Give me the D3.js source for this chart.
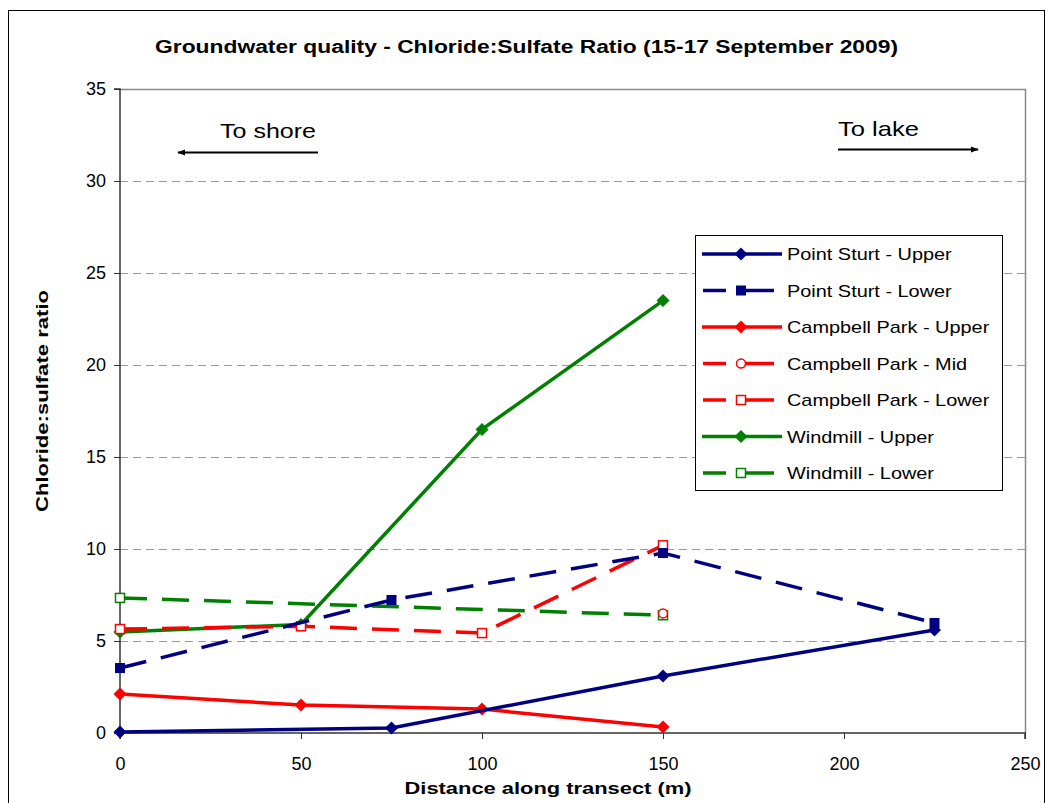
<!DOCTYPE html>
<html><head><meta charset="utf-8">
<script src="https://cdn.jsdelivr.net/npm/d3@7"></script>
<style>body{margin:0;background:#fff}svg{display:block;font-family:Arial,"Liberation Sans",sans-serif}</style>
</head><body>
<svg id="c" width="1050" height="803"></svg>
<script>
const title = "Groundwater quality - Chloride:Sulfate Ratio (15-17 September 2009)";
const xTitle = "Distance along transect (m)";
const yTitle = "Chloride:sulfate ratio";
const xTicks = [0, 50, 100, 150, 200, 250];
const yTicks = [0, 5, 10, 15, 20, 25, 30, 35];
const seriesNames = ["Point Sturt - Upper","Point Sturt - Lower","Campbell Park - Upper","Campbell Park - Mid","Campbell Park - Lower","Windmill - Upper","Windmill - Lower"];
const seriesColors = ["#000080","#000080","#FF0000","#FF0000","#FF0000","#008000","#008000"];
const seriesDashed = [false,true,false,true,true,false,true];
const seriesMarkers = ["diamond","square","diamond","circleOpen","squareOpen","diamond","squareOpen"];
const pointSturtUpperX = [0, 75, 150, 225];
const pointSturtUpperY = [0.05, 0.27, 3.1, 5.6];
const pointSturtLowerX = [0, 75, 150, 225];
const pointSturtLowerY = [3.53, 7.23, 9.78, 5.98];
const campbellUpperX = [0, 50, 100, 150];
const campbellUpperY = [2.12, 1.52, 1.3, 0.33];
const campbellMidX = [150];
const campbellMidY = [6.5];
const campbellLowerX = [0, 50, 100, 150];
const campbellLowerY = [5.65, 5.8, 5.43, 10.2];
const windmillUpperX = [0, 50, 100, 150];
const windmillUpperY = [5.49, 5.9, 16.5, 23.5];
const windmillLowerX = [0, 150];
const windmillLowerY = [7.34, 6.4];
const allX = [pointSturtUpperX, pointSturtLowerX, campbellUpperX, campbellMidX, campbellLowerX, windmillUpperX, windmillLowerX];
const allY = [pointSturtUpperY, pointSturtLowerY, campbellUpperY, campbellMidY, campbellLowerY, windmillUpperY, windmillLowerY];
const series = seriesNames.map((n,i)=>({name:n,color:seriesColors[i],dashed:seriesDashed[i],marker:seriesMarkers[i],
  pts: allX[i].map((x,j)=>({x:x,y:allY[i][j]}))}));

const svg = d3.select("#c");
const L=120,R=1025,T=89,B=733;
const x = d3.scaleLinear().domain([0,250]).range([L,R]);
const y = d3.scaleLinear().domain([0,35]).range([B,T]);

function stretch(sel, k){
  sel.each(function(){ const w=this.getComputedTextLength(); d3.select(this).attr("textLength",w*k).attr("lengthAdjust","spacingAndGlyphs"); });
}

// outer border
svg.append("rect").attr("x",8.5).attr("y",10.5).attr("width",1036).attr("height",820)
  .attr("fill","#fff").attr("stroke","#000").attr("stroke-width",1);

// grid
svg.append("g").selectAll("line").data(yTicks.filter(d=>d>0&&d<35)).join("line")
  .attr("x1",L).attr("x2",R).attr("y1",d=>Math.round(y(d))+0.5).attr("y2",d=>Math.round(y(d))+0.5)
  .attr("stroke","#999").attr("stroke-width",1).attr("stroke-dasharray","8,5");

// plot border (top/right gray)
svg.append("path").attr("d",`M${L},${T+0.5}H${R+0.5}V${B}`).attr("fill","none").attr("stroke","#888").attr("stroke-width",1.5);

// axes
const yAxis = d3.axisLeft(y).tickValues(yTicks).tickSize(6).tickPadding(8);
const gy = svg.append("g").attr("transform",`translate(${L},0)`).call(yAxis);
const xAxis = d3.axisBottom(x).tickValues(xTicks).tickSize(6).tickPadding(18);
const gx = svg.append("g").attr("transform",`translate(0,${B})`).call(xAxis);
[gy,gx].forEach(g=>{
  g.select(".domain").attr("stroke","#333").attr("stroke-width",1.5);
  g.selectAll(".tick line").attr("stroke","#333");
  g.selectAll(".tick text").attr("font-size",18).attr("fill","#000").attr("font-family","Arial, 'Liberation Sans', sans-serif");
});
gy.select(".domain").attr("d",`M-6,${T}H0V${B}`);
gx.select(".domain").attr("d",`M${L},6V0H${R}V6`);

// titles
svg.append("text").attr("x",526.5).attr("y",53).attr("text-anchor","middle").attr("font-size",18).attr("font-weight","bold")
  .attr("textLength",743).attr("lengthAdjust","spacingAndGlyphs").text(title);
svg.append("text").attr("x",548).attr("y",794).attr("text-anchor","middle").attr("font-size",17).attr("font-weight","bold")
  .attr("textLength",287).attr("lengthAdjust","spacingAndGlyphs").text(xTitle);
svg.append("text").attr("transform",`translate(48,401) rotate(-90)`).attr("text-anchor","middle").attr("font-size",17).attr("font-weight","bold")
  .attr("textLength",222).attr("lengthAdjust","spacingAndGlyphs").text(yTitle);

// annotations
svg.append("defs").html('<marker id="ah" viewBox="0 0 10 10" refX="9" refY="5" markerWidth="4" markerHeight="4" orient="auto"><path d="M0,1L10,5L0,9z" fill="#000"/></marker>');
svg.append("text").attr("x",220).attr("y",138).attr("font-size",21).attr("textLength",96).attr("lengthAdjust","spacingAndGlyphs").text("To shore");
svg.append("line").attr("x1",318).attr("y1",152.5).attr("x2",178).attr("y2",152.5).attr("stroke","#000").attr("stroke-width",2).attr("marker-end","url(#ah)");
svg.append("text").attr("x",838).attr("y",136).attr("font-size",21).attr("textLength",81).attr("lengthAdjust","spacingAndGlyphs").text("To lake");
svg.append("line").attr("x1",838).attr("y1",149.5).attr("x2",978).attr("y2",149.5).attr("stroke","#000").attr("stroke-width",2).attr("marker-end","url(#ah)");

function drawMarker(g, type, color, cx, cy){
  if(type==="diamond"){
    g.append("path").attr("d",`M${cx},${cy-6.5}L${cx+6.5},${cy}L${cx},${cy+6.5}L${cx-6.5},${cy}Z`).attr("fill",color);
  } else if(type==="square"){
    g.append("rect").attr("x",cx-5).attr("y",cy-5).attr("width",10).attr("height",10).attr("fill",color);
  } else if(type==="squareOpen"){
    g.append("rect").attr("x",cx-4.5).attr("y",cy-4.5).attr("width",9).attr("height",9).attr("fill","#fff").attr("stroke",color).attr("stroke-width",1.5);
  } else if(type==="circleOpen"){
    g.append("circle").attr("cx",cx).attr("cy",cy).attr("r",4.5).attr("fill","#fff").attr("stroke",color).attr("stroke-width",1.5);
  }
}

const line = d3.line().x(d=>x(d.x)).y(d=>y(d.y));
const plotG = svg.append("g");
series.slice().reverse().forEach(s=>{
  const g = plotG.append("g");
  if(s.pts.length>1){
    g.append("path").datum(s.pts).attr("d",line).attr("fill","none").attr("stroke",s.color)
      .attr("stroke-width",3.5).attr("stroke-dasharray",s.dashed?"27,15":null);
  }
  s.pts.forEach(p=>drawMarker(g,s.marker,s.color,x(p.x),y(p.y)));
});

// legend
const lg = svg.append("g");
lg.append("rect").attr("x",695.5).attr("y",235.5).attr("width",307).attr("height",255).attr("fill","#fff").attr("stroke","#000").attr("stroke-width",1);
series.forEach((s,i)=>{
  const cy = 254+i*36.5;
  const g = lg.append("g");
  if(s.dashed){
    g.append("line").attr("x1",703).attr("x2",726).attr("y1",cy).attr("y2",cy).attr("stroke",s.color).attr("stroke-width",3.5);
    g.append("line").attr("x1",737).attr("x2",774).attr("y1",cy).attr("y2",cy).attr("stroke",s.color).attr("stroke-width",3.5);
  } else {
    g.append("line").attr("x1",702).attr("x2",782).attr("y1",cy).attr("y2",cy).attr("stroke",s.color).attr("stroke-width",3.5);
  }
  drawMarker(g,s.marker,s.color,741,cy);
  const t = g.append("text").attr("x",787).attr("y",cy+6).attr("font-size",17).text(s.name);
  stretch(t,1.17);
});
</script>
</body></html>
